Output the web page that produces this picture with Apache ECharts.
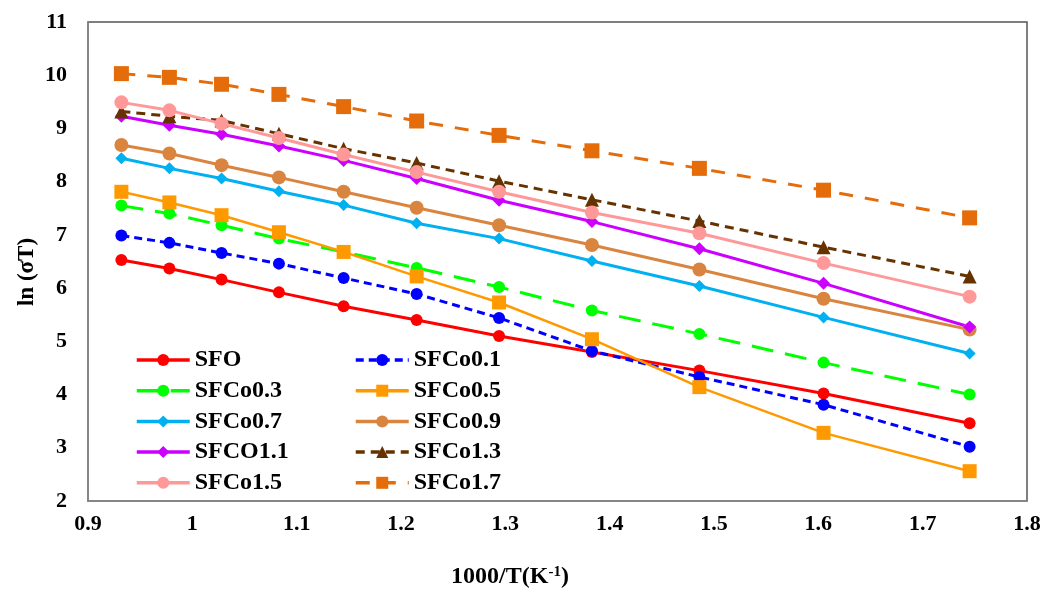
<!DOCTYPE html>
<html>
<head>
<meta charset="utf-8">
<script src="https://cdn.jsdelivr.net/npm/echarts@6/dist/echarts.min.js"></script>
<style>
html,body{margin:0;padding:0;background:#fff;}
#chart{width:1046px;height:590px;}
</style>
</head>
<body>
<div id="chart"></div>
<script>
// 1000/T values (T = 1073 ... 573 K)
var xValues = [0.932, 0.978, 1.028, 1.083, 1.145, 1.215, 1.294, 1.383, 1.486, 1.605, 1.745];
var seriesNames = ['SFO','SFCo0.1','SFCo0.3','SFCo0.5','SFCo0.7','SFCo0.9','SFCO1.1','SFCo1.3','SFCo1.5','SFCo1.7'];
var SFO      = [6.53, 6.37, 6.16, 5.92, 5.66, 5.40, 5.10, 4.80, 4.45, 4.02, 3.46];
var SFCo01   = [6.99, 6.85, 6.66, 6.46, 6.19, 5.89, 5.44, 4.82, 4.33, 3.81, 3.02];
var SFCo03   = [7.55, 7.40, 7.18, 6.93, 6.68, 6.38, 6.02, 5.58, 5.14, 4.60, 4.00];
var SFCo05   = [7.81, 7.61, 7.37, 7.05, 6.68, 6.22, 5.73, 5.04, 4.14, 3.28, 2.56];
var SFCo07   = [8.44, 8.25, 8.06, 7.82, 7.56, 7.22, 6.93, 6.51, 6.04, 5.45, 4.77];
var SFCo09   = [8.69, 8.53, 8.31, 8.08, 7.81, 7.51, 7.18, 6.81, 6.35, 5.80, 5.22];
var SFCO11   = [9.23, 9.06, 8.89, 8.67, 8.40, 8.06, 7.65, 7.25, 6.74, 6.09, 5.27];
var SFCo13   = [9.32, 9.23, 9.15, 8.90, 8.62, 8.35, 8.01, 7.66, 7.26, 6.77, 6.22];
var SFCo15   = [9.49, 9.34, 9.09, 8.82, 8.51, 8.18, 7.81, 7.42, 7.03, 6.47, 5.84];
var SFCo17   = [10.03, 9.96, 9.83, 9.64, 9.41, 9.14, 8.87, 8.58, 8.25, 7.84, 7.32];
var yTicks = {min: 2, max: 11, interval: 1};
var xTicks = {min: 0.9, max: 1.8, interval: 0.1};

var allData = [SFO, SFCo01, SFCo03, SFCo05, SFCo07, SFCo09, SFCO11, SFCo13, SFCo15, SFCo17];
var styles = [
  {color:'#FF0000', symbol:'circle',   size:12, width:3,   type:'solid'},
  {color:'#0000FF', symbol:'circle',   size:12, width:3,   type:[8,5]},
  {color:'#00FF00', symbol:'circle',   size:12, width:3,   type:[22,12]},
  {color:'#FF9900', symbol:'rect',     size:14, width:2.5, type:'solid'},
  {color:'#00B0F0', symbol:'diamond',  size:12, width:3,   type:'solid'},
  {color:'#D9843F', symbol:'circle',   size:14, width:3,   type:'solid'},
  {color:'#CC00FF', symbol:'diamond',  size:13, width:3,   type:'solid'},
  {color:'#663300', symbol:'triangle', size:14, width:3,   type:[9,6]},
  {color:'#FF9999', symbol:'circle',   size:14, width:3,   type:'solid'},
  {color:'#E46C0A', symbol:'rect',     size:15, width:3,   type:[14,12]}
];

function pairs(ys){ return xValues.map(function(x,i){ return [x, ys[i]]; }); }

var font = 'Liberation Serif';
var series = allData.map(function(d, i){
  var s = styles[i];
  return {
    name: seriesNames[i], type: 'line', data: pairs(d),
    symbol: s.symbol, symbolSize: s.size,
    itemStyle: {color: s.color},
    lineStyle: {color: s.color, width: s.width, type: s.type},
    animation: false
  };
});

function legendItems(idx){
  return idx.map(function(i){
    var s = styles[i];
    return {name: seriesNames[i], lineStyle: {width: 3.5, color: s.color, type: s.type}};
  });
}

var legendCommon = {
  orient: 'vertical', itemWidth: 53, itemHeight: 15, itemGap: 6.7,
  textStyle: {fontFamily: font, fontWeight: 'bold', fontSize: 24, color: '#000', lineHeight: 22}
};

var chart = echarts.init(document.getElementById('chart'));
chart.setOption({
  backgroundColor: '#fff',
  animation: false,
  grid: {left: 88, top: 22, right: 19, bottom: 89, show: true, borderColor: '#555', borderWidth: 1.5},
  xAxis: {
    type: 'value', min: xTicks.min, max: xTicks.max, interval: xTicks.interval,
    axisLine: {show: true, lineStyle: {color: '#888', width: 1.5}},
    axisTick: {show: false}, splitLine: {show: false},
    axisLabel: {fontFamily: font, fontWeight: 'bold', fontSize: 22, color: '#000', margin: 12}
  },
  yAxis: {
    type: 'value', min: yTicks.min, max: yTicks.max, interval: yTicks.interval,
    axisLine: {show: true, lineStyle: {color: '#888', width: 1.5}},
    axisTick: {show: false}, splitLine: {show: false},
    axisLabel: {fontFamily: font, fontWeight: 'bold', fontSize: 22, color: '#000', margin: 21}
  },
  legend: [
    Object.assign({}, legendCommon, {left: 130, top: 343, data: legendItems([0,2,4,6,8])}),
    Object.assign({}, legendCommon, {left: 349, top: 343, data: legendItems([1,3,5,7,9])})
  ],
  graphic: [
    {type: 'text', x: 27, y: 272, rotation: Math.PI/2,
     style: {text: 'ln (σT)', fontFamily: font, fontWeight: 'bold', fontSize: 23, fill: '#000', align: 'center', verticalAlign: 'middle'}},
    {type: 'text', x: 510, y: 577,
     style: {text: '{a|1000/T(K}{b|-1}{a|)}', align: 'center', verticalAlign: 'middle',
       rich: {
         a: {fontFamily: font, fontWeight: 'bold', fontSize: 24, fill: '#000', color: '#000'},
         b: {fontFamily: font, fontWeight: 'bold', fontSize: 15, fill: '#000', color: '#000', verticalAlign: 'top', padding: [0,0,8,0]}
       }}}
  ],
  series: series
});
</script>
</body>
</html>
